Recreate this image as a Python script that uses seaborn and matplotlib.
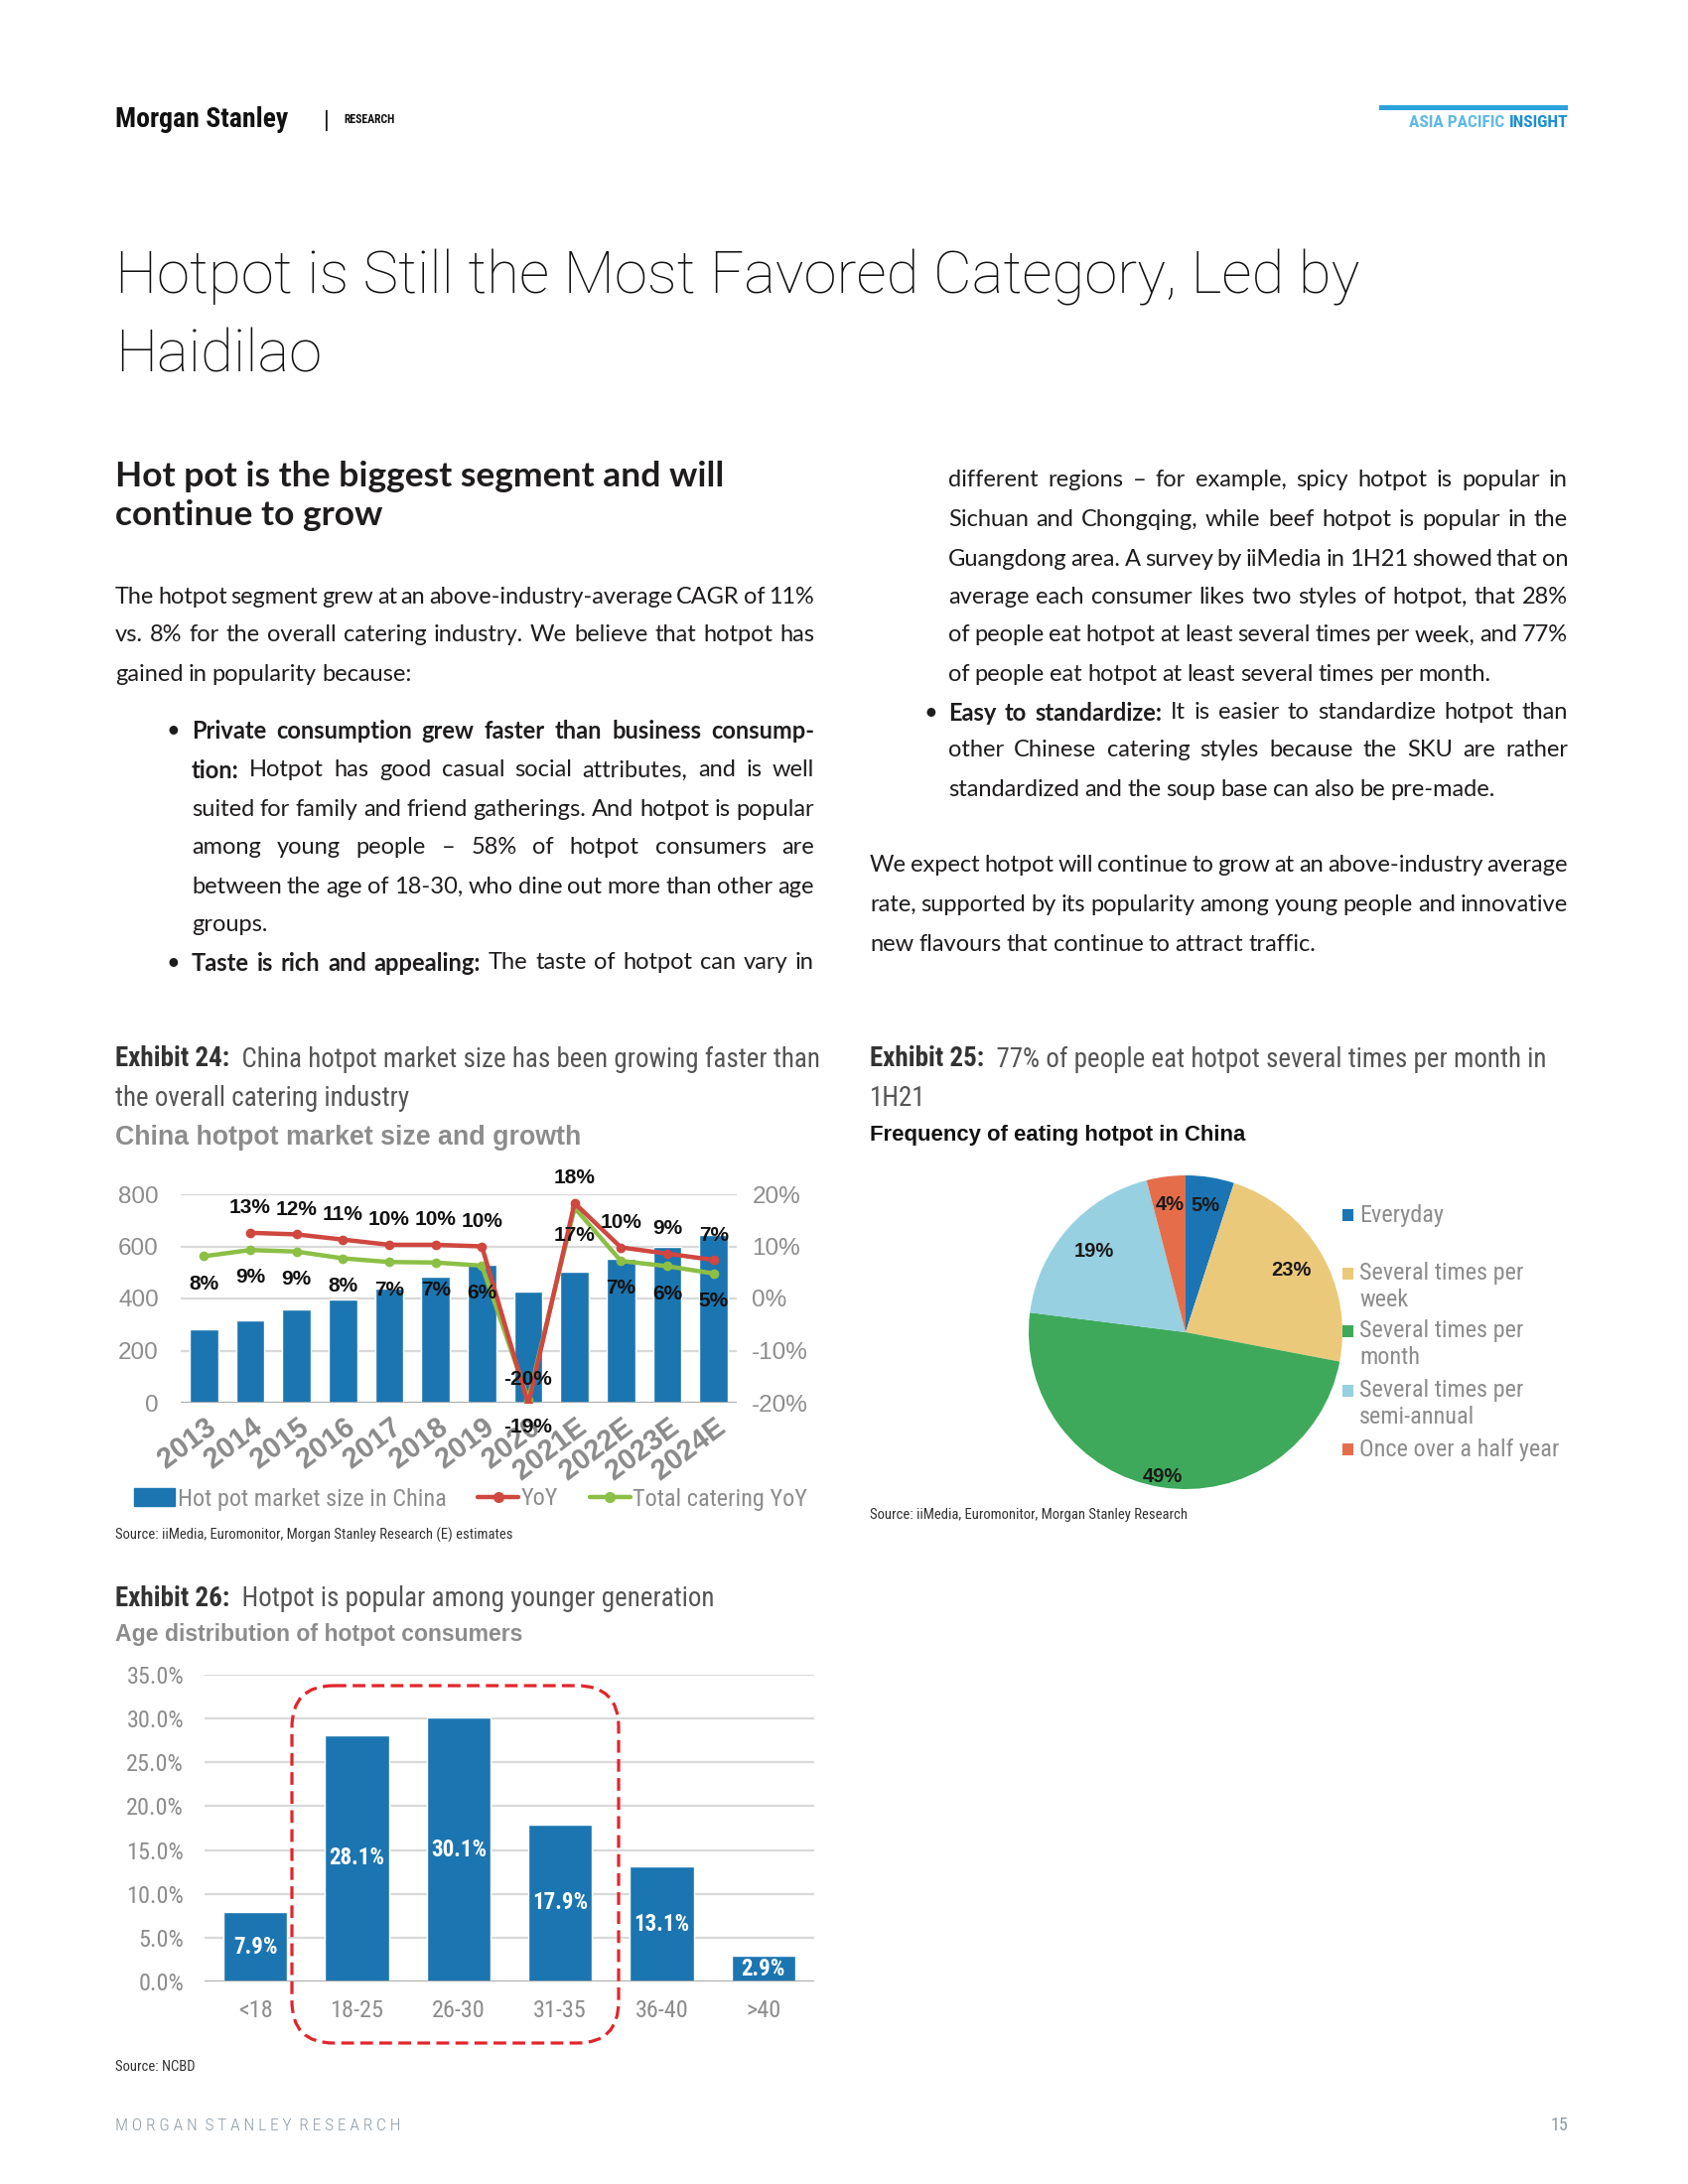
import numpy as np
import pandas as pd
import matplotlib
matplotlib.use("Agg")
import matplotlib.pyplot as plt
import seaborn as sns
from matplotlib.patches import FancyBboxPatch, Rectangle
from matplotlib.lines import Line2D
import matplotlib.patheffects as pe

# ---------------- data ----------------
years = ["2013", "2014", "2015", "2016", "2017", "2018", "2019", "2020",
         "2021E", "2022E", "2023E", "2024E"]
market_size = [281, 315, 357, 396, 438, 483, 528, 425, 502, 551, 597, 643]
hotpot_yoy = [np.nan, 12.6, 12.3, 11.3, 10.3, 10.3, 10.0, -20.3, 18.3, 9.8, 8.6, 7.4]
catering_yoy = [8.1, 9.3, 9.0, 7.7, 7.0, 6.9, 6.3, -19.4, 17.4, 7.2, 6.2, 4.8]
size_ticks = [0, 200, 400, 600, 800]
growth_ticks = [-20, -10, 0, 10, 20]

freq_labels = ["Everyday", "Several times per\nweek", "Several times per\nmonth",
               "Several times per\nsemi-annual", "Once over a half year"]
freq_share = [5, 23, 49, 19, 4]

age_groups = ["<18", "18-25", "26-30", "31-35", "36-40", ">40"]
age_share = [7.9, 28.1, 30.1, 17.9, 13.1, 2.9]
age_ticks = [0, 5, 10, 15, 20, 25, 30, 35]

# ---------------- style ----------------
sns.set_theme(style="white")
NARROW = ["Liberation Sans Narrow", "Roboto Condensed", "Liberation Sans", "DejaVu Sans"]
ARIAL = ["Liberation Sans", "DejaVu Sans"]
BODY = ["Lato", "DejaVu Sans"]
TITLEF = ["Roboto", "Lato", "DejaVu Sans"]
plt.rcParams["font.family"] = ARIAL

BLUE = "#1b75b1"
RED = "#d0473f"
GREEN = "#8cbf45"
GRID = "#d9d9d9"
TICK = "#8c8c8c"
INK = "#1f1c1d"

W, H = 1700, 2200
fig = plt.figure(figsize=(17, 22), dpi=100)
fig.patch.set_facecolor("white")
page = fig.add_axes([0, 0, 1, 1], zorder=20)
page.set_xlim(0, W)
page.set_ylim(H, 0)
page.axis("off")
page.patch.set_alpha(0)
R = fig.canvas.get_renderer()


def fr(l, t, r, b):
    return [l / W, 1 - b / H, (r - l) / W, (b - t) / H]


def width(t):
    return t.get_window_extent(R).width


def txt(x, y, s, size, color=INK, family=BODY, weight="normal", ha="left", va="center", **kw):
    return page.text(x, y, s, fontsize=size, color=color, family=family,
                     fontweight=weight, ha=ha, va=va, **kw)


def fit(x, y, s, target, size0, **kw):
    t = txt(x, y, s, size0, **kw)
    sz = size0 * target / width(t)
    t.set_fontsize(sz)
    return t, sz


def runs(x, y, parts, size, family=NARROW):
    for s, w, c in parts:
        t = txt(x, y, s, size, color=c, family=family, weight=w)
        x += width(t)
    return x


def jline(x0, x1, y, segs, size=17.0, justify=True, color=INK):
    words = []
    for s, w in segs:
        for wd in s.split(" "):
            if wd:
                words.append((wd, w))
    objs = [txt(0, y, wd, size, color=color, weight=w) for wd, w in words]
    ws = [width(o) for o in objs]
    em = size * 100 / 72
    nat = 0.22 * em
    mingap = 0.16 * em
    n = len(words)
    if n > 1 and sum(ws) + (n - 1) * mingap > (x1 - x0):
        k = (x1 - x0) / (sum(ws) + (n - 1) * mingap)
        for o in objs:
            o.set_fontsize(size * k)
        ws = [w * k for w in ws]
    if justify and n > 1:
        gap = (x1 - x0 - sum(ws)) / (n - 1)
    else:
        gap = nat
    x = x0
    for o, w in zip(objs, ws):
        o.set_x(x)
        x += w + gap


# ---------------- header ----------------
txt(116, 120, "Morgan Stanley", 20, color="#111", family=NARROW, weight="bold")
txt(326, 121, "|", 16, color="#111", family=ARIAL)
txt(346, 121, "RESEARCH", 8.5, color="#111", family=NARROW, weight="bold")
page.add_patch(Rectangle((1389, 106), 190, 5, color="#2aa3dc", lw=0))
xa = runs(1389, 124, [("ASIA PACIFIC ", "bold", "#5fb9e6"), ("INSIGHT", "bold", "#1b8fd0")], 12.5)
shift = 1579 - xa
for t in page.texts[-2:]:
    t.set_x(t.get_position()[0] + shift)

# ---------------- title ----------------
_, tsz = fit(116, 280, "Hotpot is Still the Most Favored Category, Led by", 1252, 40,
             family=TITLEF, weight="light", color="#111")
txt(116, 358, "Haidilao", tsz, family=TITLEF, weight="light", color="#111")

_, hsz = fit(116, 480, "Hot pot is the biggest segment and will", 613, 22, weight="bold")
txt(116, 519, "continue to grow", hsz, weight="bold")

# ---------------- body text ----------------
B = "bold"
N = "normal"
LX0, LX1 = 116, 820
jline(LX0, LX1, 601, [("The hotpot segment grew at an above-industry-average CAGR of 11%", N)])
jline(LX0, LX1, 640, [("vs. 8% for the overall catering industry. We believe that hotpot has", N)])
jline(LX0, LX1, 679, [("gained in popularity because:", N)], justify=False)

BX0 = 193
txt(168, 736, "\u2022", 17)
jline(BX0, LX1, 736, [("Private consumption grew faster than business consump-", B)])
jline(BX0, LX1, 776, [("tion:", B), ("Hotpot has good casual social attributes, and is well", N)])
jline(BX0, LX1, 815, [("suited for family and friend gatherings. And hotpot is popular", N)])
jline(BX0, LX1, 854, [("among young people \u2013 58% of hotpot consumers are", N)])
jline(BX0, LX1, 893, [("between the age of 18-30, who dine out more than other age", N)])
jline(BX0, LX1, 931, [("groups.", N)], justify=False)
txt(168, 970, "\u2022", 17)
jline(BX0, LX1, 970, [("Taste is rich and appealing:", B), ("The taste of hotpot can vary in", N)])

RX0, RX1, RP = 955, 1579, 876
jline(RX0, RX1, 484, [("different regions \u2013 for example, spicy hotpot is popular in", N)])
jline(RX0, RX1, 524, [("Sichuan and Chongqing, while beef hotpot is popular in the", N)])
jline(RX0, RX1, 563, [("Guangdong area. A survey by iiMedia in 1H21 showed that on", N)])
jline(RX0, RX1, 602, [("average each consumer likes two styles of hotpot, that 28%", N)])
jline(RX0, RX1, 640, [("of people eat hotpot at least several times per week, and 77%", N)])
jline(RX0, RX1, 679, [("of people eat hotpot at least several times per month.", N)], justify=False)
txt(931, 718, "\u2022", 17)
jline(RX0, RX1, 718, [("Easy to standardize:", B), ("It is easier to standardize hotpot than", N)])
jline(RX0, RX1, 756, [("other Chinese catering styles because the SKU are rather", N)])
jline(RX0, RX1, 795, [("standardized and the soup base can also be pre-made.", N)], justify=False)
jline(RP, RX1, 872, [("We expect hotpot will continue to grow at an above-industry average", N)])
jline(RP, RX1, 911, [("rate, supported by its popularity among young people and innovative", N)])
jline(RP, RX1, 951, [("new flavours that continue to attract traffic.", N)], justify=False)

# ---------------- exhibit captions ----------------
CAPD = "#333333"
CAPL = "#555555"
probe = txt(0, -100, "Exhibit 24:  China hotpot market size has been growing faster than", 17, family=NARROW)
csz = 17 * 704 / width(probe)
probe.remove()
runs(116, 1067, [("Exhibit 24:", B, CAPD), ("  China hotpot market size has been growing faster than", N, CAPL)], csz)
txt(116, 1106, "the overall catering industry", csz, color=CAPL, family=NARROW)
fit(116, 1146, "China hotpot market size and growth", 468, 16, color=TICK, family=ARIAL, weight="bold")

runs(876, 1067, [("Exhibit 25:", B, CAPD), ("  77% of people eat hotpot several times per month in", N, CAPL)], csz)
txt(876, 1106, "1H21", csz, color=CAPL, family=NARROW)
fit(876, 1143, "Frequency of eating hotpot in China", 380, 14, color="#111", family=ARIAL, weight="bold")

runs(116, 1610, [("Exhibit 26:", B, CAPD), ("  Hotpot is popular among younger generation", N, CAPL)], csz)
fit(116, 1647, "Age distribution of hotpot consumers", 412, 14, color=TICK, family=ARIAL, weight="bold")

# ---------------- Exhibit 24 ----------------
ax1 = fig.add_axes(fr(182, 1203, 742, 1413))
df24 = pd.DataFrame({"year": years, "size": market_size})
sns.barplot(data=df24, x="year", y="size", color=BLUE, saturation=1, width=0.62, ax=ax1, zorder=2)
ax1.set_ylim(0, 800)
ax1.set_xlim(-0.5, len(years) - 0.5)
ax1.set_yticks(size_ticks)
ax1.set_yticklabels([str(v) for v in size_ticks])
ax1.yaxis.grid(True, color=GRID, lw=1.6, zorder=0)
ax1.set_axisbelow(True)
for s in ax1.spines.values():
    s.set_visible(False)
ax1.axhline(0, color="#a6a6a6", lw=2, zorder=3)
ax1.set_xlabel("")
ax1.set_ylabel("")
ax1.tick_params(axis="y", length=0, labelsize=17.5, labelcolor=TICK, pad=16)

ax2 = ax1.twinx()
sns.lineplot(x=np.arange(len(years)), y=catering_yoy, ax=ax2, color=GREEN, lw=3.2,
             marker="o", markersize=7, markeredgewidth=0, legend=False)
sns.lineplot(x=np.arange(len(years)), y=hotpot_yoy, ax=ax2, color=RED, lw=3.2,
             marker="o", markersize=7, markeredgewidth=0, legend=False)
ax2.set_ylim(-20, 20)
ax2.set_yticks(growth_ticks)
ax2.set_yticklabels([f"{v}%" for v in growth_ticks])
ax2.tick_params(axis="y", length=0, labelsize=17.5, labelcolor=TICK, pad=11)
for s in ax2.spines.values():
    s.set_visible(False)
ax2.set_ylabel("")
for i, v in enumerate(hotpot_yoy):
    if not np.isnan(v):
        ax2.annotate(f"{v:.0f}%", (i, v), xytext=(0, 18), textcoords="offset points",
                     ha="center", va="center", fontsize=15, fontweight="bold",
                     color="#111", annotation_clip=False)
for i, v in enumerate(catering_yoy):
    ax2.annotate(f"{v:.0f}%", (i, v), xytext=(0, -20), textcoords="offset points",
                 ha="center", va="center", fontsize=15, fontweight="bold",
                 color="#111", annotation_clip=False)

ax1.set_xticks(range(len(years)))
ax1.set_xticklabels(years, rotation=37, ha="right", rotation_mode="anchor",
                    fontsize=21, fontweight="bold", color=TICK)
ax1.tick_params(axis="x", length=0, pad=8)
for t in ax1.get_xticklabels():
    t.set_path_effects([pe.withStroke(linewidth=4, foreground="white")])

handles = [Rectangle((0, 0), 1, 1, color=BLUE),
           Line2D([], [], color=RED, lw=3.2, marker="o", markersize=7),
           Line2D([], [], color=GREEN, lw=3.2, marker="o", markersize=7)]
fig.legend(handles, ["Hot pot market size in China", "YoY", "Total catering YoY"],
           loc="center", bbox_to_anchor=(474 / W, 1 - 1510 / H), ncol=3, frameon=False,
           prop={"family": NARROW, "size": 17.5}, labelcolor="#8c8c8c",
           handlelength=1.7, handletextpad=0.1, columnspacing=1.3)

txt(116, 1546, "Source: iiMedia, Euromonitor, Morgan Stanley Research (E) estimates", 10.5,
    color="#333", family=NARROW)

# ---------------- Exhibit 25 ----------------
PIE = ["#1b75b5", "#ebc97b", "#3ea95a", "#97d0e0", "#e66d4a"]
cx, cy, r = 1194, 1342, 158
axp = fig.add_axes(fr(cx - r, cy - r, cx + r, cy + r))
wedges, _, autot = axp.pie(freq_share, colors=PIE, startangle=90, counterclock=False,
                           autopct="%1.0f%%", pctdistance=0.8, radius=1,
                           wedgeprops={"linewidth": 0},
                           textprops={"fontsize": 14.5, "fontweight": "bold", "color": "#1a1a1a"})
axp.set_xlim(-1, 1)
axp.set_ylim(-1, 1)
axp.set_aspect("equal")
axp.axis("off")
label_r = [0.82, 0.78, 0.93, 0.78, 0.82]
for w, t, rr in zip(wedges, autot, label_r):
    ang = np.deg2rad((w.theta1 + w.theta2) / 2)
    t.set_position((rr * np.cos(ang), rr * np.sin(ang)))

leg_y = [1224, 1283, 1341, 1401, 1460]
for lab, col, yy in zip(freq_labels, PIE, leg_y):
    page.add_patch(Rectangle((1352, yy - 6), 11, 12, color=col, lw=0))
    for k, line in enumerate(lab.split("\n")):
        txt(1369, yy + 27 * k, line, 17.5, color=TICK, family=NARROW)

txt(876, 1526, "Source: iiMedia, Euromonitor, Morgan Stanley Research", 10.5,
    color="#333", family=NARROW)

# ---------------- Exhibit 26 ----------------
ax3 = fig.add_axes(fr(206, 1687, 820, 1996))
df26 = pd.DataFrame({"age": age_groups, "share": age_share})
sns.barplot(data=df26, x="age", y="share", color=BLUE, saturation=1, width=0.63, ax=ax3, zorder=2)
ax3.set_ylim(0, 35)
ax3.set_xlim(-0.5, len(age_groups) - 0.5)
ax3.set_yticks(age_ticks)
ax3.set_yticklabels([f"{v:.1f}%" for v in age_ticks])
ax3.yaxis.grid(True, color=GRID, lw=1.6, zorder=0)
ax3.set_axisbelow(True)
for s in ax3.spines.values():
    s.set_visible(False)
ax3.axhline(0, color="#a6a6a6", lw=2, zorder=3)
ax3.set_xlabel("")
ax3.set_ylabel("")
ax3.tick_params(axis="y", length=0, labelcolor=TICK, pad=15)
ax3.tick_params(axis="x", length=0, labelcolor=TICK, pad=13)
for lab in ax3.get_yticklabels() + ax3.get_xticklabels():
    lab.set_family(NARROW)
    lab.set_fontsize(17.5)
for i, v in enumerate(age_share):
    ax3.text(i, v / 2, f"{v:.1f}%", ha="center", va="center", color="white",
             fontsize=16.5, fontweight="bold", family=NARROW, zorder=5)

page.add_patch(FancyBboxPatch((294, 1698), 329, 360,
                              boxstyle="round,pad=0,rounding_size=42",
                              fc="none", ec="#e3242b", lw=2.3, ls=(0, (4, 2))))

txt(116, 2082, "Source: NCBD", 10.5, color="#333", family=NARROW)

# ---------------- footer ----------------
txt(116, 2141, "M O R G A N  S T A N L E Y  R E S E A R C H", 12.5,
    color="#8b9aa6", family=NARROW, weight="light")
txt(1579, 2141, "15", 13, color="#8b9aa6", family=NARROW, ha="right")

fig.savefig("out.png", dpi=100, facecolor="white")
